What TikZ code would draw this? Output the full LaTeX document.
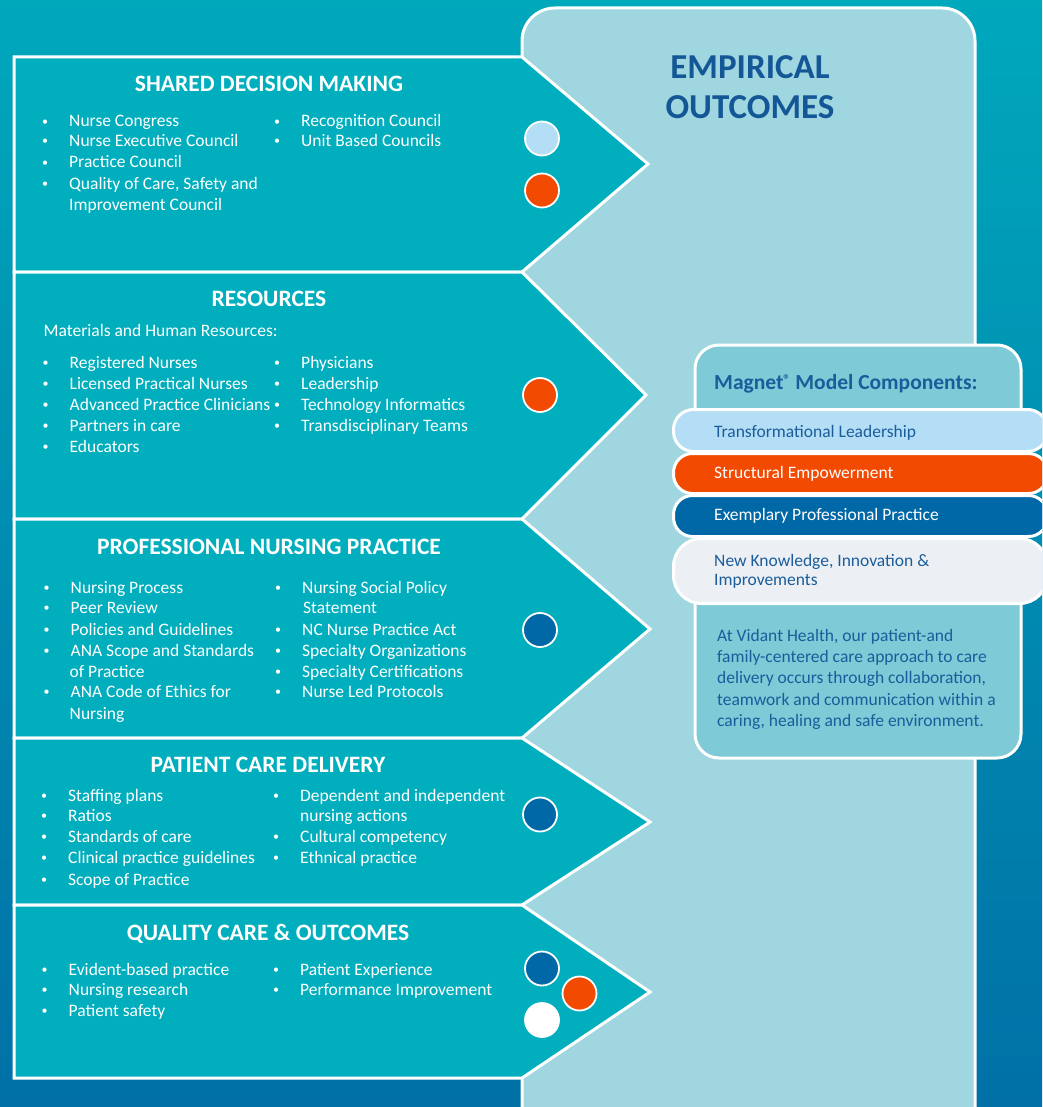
\documentclass[tikz,border=0pt]{standalone}
\usepackage{fontspec}
\setmainfont{Carlito}
\definecolor{bgtop}{HTML}{00A8BC}
\definecolor{bgmid}{HTML}{0092B5}
\definecolor{bgbot}{HTML}{0070A6}
\definecolor{arrowfill}{HTML}{00AEBD}
\definecolor{panelfill}{HTML}{A0D6DF}
\definecolor{magfill}{HTML}{7ECAD6}
\definecolor{ltblue}{HTML}{B3DEF5}
\definecolor{orng}{HTML}{F24A00}
\definecolor{dkblue}{HTML}{0068A6}
\definecolor{offwhite}{HTML}{ECF0F4}
\definecolor{txtblue}{HTML}{1B5C9B}
\definecolor{headblue}{HTML}{145796}
\newcommand\bodyfont{\fontsize{17.5}{21}\selectfont}
\newcommand\titlefont{\fontsize{23.5}{28}\selectfont\bfseries}
\newcommand\smallbul{\raisebox{1.6pt}{\fontsize{12}{12}\selectfont •}}
\newcommand\bl[4]{\node[itm] (#1) at (#2,#3) {\llap{\smallbul\hspace{21pt}}#4};}
\tikzset{
  arrowbox/.style={fill=arrowfill, draw=white, line width=3pt, line join=miter},
  dot/.style={circle, draw=white, line width=1.8pt, minimum size=34pt, inner sep=0pt},
  head/.style={text=white, font=\titlefont, anchor=base, inner sep=0pt},
  itm/.style={text=white, font=\bodyfont, anchor=base west, inner sep=0pt},
  pillnode/.style={draw=white, line width=3pt, anchor=north west, minimum width=374pt, inner sep=0pt},
  pilltext/.style={font=\bodyfont, anchor=base west, inner sep=0pt},
  para/.style={font=\bodyfont, text=txtblue, anchor=base west, inner sep=0pt}
}
\begin{document}
\begin{tikzpicture}[x=1pt,y=-1pt]
\useasboundingbox (0,0) rectangle (1042,1107);
\clip (0,0) rectangle (1042,1107);
% background
\fill[top color=bgtop, middle color=bgmid, bottom color=bgbot] (0,0) rectangle (1042,1107);
% big outcomes panel
\draw[draw=white, line width=3pt, fill=panelfill, rounded corners=33pt] (522,8) rectangle (975,1140);
\node[font=\fontsize{35}{40}\selectfont\bfseries, text=headblue, anchor=base, inner sep=0pt] (emp1) at (750,79) {EMPIRICAL};
\node[font=\fontsize{35}{40}\selectfont\bfseries, text=headblue, anchor=base, inner sep=0pt] (emp2) at (750,119) {OUTCOMES};
% magnet box
\draw[draw=white, line width=3pt, fill=magfill, rounded corners=24pt] (695,345) rectangle (1021,758);
\node[font=\fontsize{21.5}{25}\selectfont\bfseries, text=txtblue, anchor=base west, inner sep=0pt] (mt) at (714,389) {Magnet\raisebox{5pt}{\fontsize{14}{14}\selectfont ®} Model Components:};
\node[pillnode, fill=ltblue, minimum height=42pt, rounded corners=20pt] (p1) at (672,408) {};
\node[pillnode, fill=orng, minimum height=40pt, rounded corners=19pt] (p2) at (672,452) {};
\node[pillnode, fill=dkblue, minimum height=41pt, rounded corners=19pt] (p3) at (672,494) {};
\node[pillnode, fill=offwhite, minimum height=65pt, rounded corners=28pt] (p4) at (672,537) {};
\node[pilltext, text=txtblue] (t1) at (714,437) {Transformational Leadership};
\node[pilltext, text=white] (t2) at (714,478) {Structural Empowerment};
\node[pilltext, text=white] (t3) at (714,520) {Exemplary Professional Practice};
\node[pilltext, text=txtblue] (t4) at (714,566) {New Knowledge, Innovation \&};
\node[pilltext, text=txtblue] (t4b) at (714,585.5) {Improvements};
\node[para] (q1) at (717,641.5) {At Vidant Health, our patient-and};
\node[para] (q2) at (717,662.5) {family-centered care approach to care};
\node[para] (q3) at (717,683.5) {delivery occurs through collaboration,};
\node[para] (q4) at (717,705) {teamwork and communication within a};
\node[para] (q5) at (717,726) {caring, healing and safe environment.};
% arrows
\draw[arrowbox] (14,57) -- (522,57) -- (648,164) -- (522,272) -- (14,272) -- cycle;
\draw[arrowbox] (14,272) -- (522,272) -- (646,395) -- (522,519) -- (14,519) -- cycle;
\draw[arrowbox] (14,519) -- (522,519) -- (650,629) -- (522,738) -- (14,738) -- cycle;
\draw[arrowbox] (14,738) -- (522,738) -- (650,822) -- (522,905) -- (14,905) -- cycle;
\draw[arrowbox] (14,905) -- (522,905) -- (650,992) -- (522,1078) -- (14,1078) -- cycle;
% circles
\node[dot, fill=ltblue] (o1) at (542,138.5) {};
\node[dot, fill=orng] (o2) at (542,190.5) {};
\node[dot, fill=orng] (o3) at (540,395) {};
\node[dot, fill=dkblue] (o4) at (540,630) {};
\node[dot, fill=dkblue] (o5) at (540,814.5) {};
\node[dot, fill=dkblue] (o6) at (542,968.5) {};
\node[dot, fill=orng] (o7) at (579.5,993.5) {};
\node[dot, fill=white] (o8) at (542,1020) {};
% section 1
\node[head] (h1) at (269,92) {SHARED DECISION MAKING};
\bl{a1}{69}{127}{Nurse Congress}
\bl{a2}{69}{146.5}{Nurse Executive Council}
\bl{a3}{69}{168}{Practice Council}
\bl{a4}{69}{189.5}{Quality of Care, Safety and}
\node[itm] (a4b) at (69,210.5) {Improvement Council};
\bl{a5}{301}{127}{Recognition Council}
\bl{a6}{301}{146.5}{Unit Based Councils}
% section 2
\node[head] (h2) at (269,306.5) {RESOURCES};
\node[itm] (b0) at (43.5,336) {Materials and Human Resources:};
\bl{b1}{69.5}{368}{Registered Nurses}
\bl{b2}{69.5}{389}{Licensed Practical Nurses}
\bl{b3}{69.5}{410}{Advanced Practice Clinicians}
\bl{b4}{69.5}{431}{Partners in care}
\bl{b5}{69.5}{452.5}{Educators}
\bl{b6}{301}{368}{Physicians}
\bl{b7}{301}{389}{Leadership}
\bl{b8}{301}{410}{Technology Informatics}
\bl{b9}{301}{431}{Transdisciplinary Teams}
% section 3
\node[head] (h3) at (269,554) {PROFESSIONAL NURSING PRACTICE};
\bl{c1}{70.5}{593.5}{Nursing Process}
\bl{c2}{70.5}{613.5}{Peer Review}
\bl{c3}{70.5}{635}{Policies and Guidelines}
\bl{c4}{70.5}{656}{ANA Scope and Standards}
\node[itm] (c4b) at (69.5,677.5) {of Practice};
\bl{c5}{70.5}{697.5}{ANA Code of Ethics for}
\node[itm] (c5b) at (69.5,719) {Nursing};
\bl{c6}{302}{593.5}{Nursing Social Policy}
\node[itm] (c6b) at (303,613.5) {Statement};
\bl{c7}{302}{635}{NC Nurse Practice Act}
\bl{c8}{302}{656}{Specialty Organizations}
\bl{c9}{302}{677.5}{Specialty Certifications}
\bl{c10}{302}{697.5}{Nurse Led Protocols}
% section 4
\node[head] (h4) at (268,772) {PATIENT CARE DELIVERY};
\bl{d1}{68}{801}{Staffing plans}
\bl{d2}{68}{821}{Ratios}
\bl{d3}{68}{842.5}{Standards of care}
\bl{d4}{68}{863.5}{Clinical practice guidelines}
\bl{d5}{68}{885}{Scope of Practice}
\bl{d6}{300}{801}{Dependent and independent}
\node[itm] (d6b) at (300,821) {nursing actions};
\bl{d7}{300}{842.5}{Cultural competency}
\bl{d8}{300}{863.5}{Ethnical practice}
% section 5
\node[head] (h5) at (268,940) {QUALITY CARE \& OUTCOMES};
\bl{e1}{68.5}{975}{Evident-based practice}
\bl{e2}{68.5}{995}{Nursing research}
\bl{e3}{68.5}{1016}{Patient safety}
\bl{e4}{300}{975}{Patient Experience}
\bl{e5}{300}{995}{Performance Improvement}
\end{tikzpicture}
\end{document}
